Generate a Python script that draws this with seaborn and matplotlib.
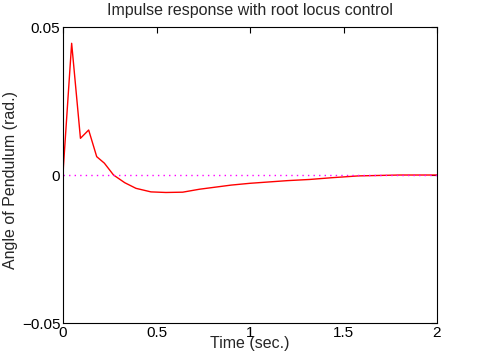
import numpy as np
import pandas as pd
import matplotlib
matplotlib.use('Agg')
import matplotlib.pyplot as plt
import seaborn as sns

# Valores
tiempo = [0, 0.002, 0.046, 0.093, 0.137, 0.18, 0.221, 0.27, 0.33, 0.39, 0.47,
          0.55, 0.64, 0.73, 0.9, 1.0, 1.2, 1.32, 1.44, 1.58, 1.8, 2.0]
angulo = [0, 0.0028, 0.0445, 0.0124, 0.0152, 0.0062, 0.0040, 0.0, -0.0026, -0.0045, -0.0057,
          -0.0059, -0.0058, -0.0048, -0.0034, -0.0028, -0.0019, -0.0015, -0.0009, -0.0003, 0.0, 0.0]
ticks_x = [0, 0.5, 1, 1.5, 2]
ticks_y = [-0.05, 0, 0.05]

df = pd.DataFrame({'t': tiempo, 'y': angulo})

sns.set_style('white')
plt.rcParams['font.family'] = ['Liberation Sans', 'DejaVu Sans']
tam = 11.5

fig = plt.figure(figsize=(4.85, 3.64), dpi=100)
ax = fig.add_axes([0.130, 0.1126, 0.771, 0.8132])

sns.lineplot(data=df, x='t', y='y', color='red', linewidth=1.0, ax=ax)
ax.axhline(0, color='magenta', linestyle=(0, (1, 3)), linewidth=1.0)

ax.set_xlim(0, 2)
ax.set_ylim(-0.05, 0.05)
ax.set_xticks(ticks_x)
ax.set_xticklabels(['0', '0.5', '1', '1.5', '2'])
ax.set_yticks(ticks_y)
ax.set_yticklabels(['\u22120.05', '0', '0.05'])
ax.tick_params(direction='in', length=4, width=0.8, top=True, right=True,
               labelsize=11, pad=2, colors='black')
for s in ax.spines.values():
    s.set_color('black')
    s.set_linewidth(0.8)

ax.set_title('Impulse response with root locus control', fontsize=tam, pad=9)
ax.set_xlabel('Time (sec.)', fontsize=tam, labelpad=-3)
ax.set_ylabel('Angle of Pendulum (rad.)', fontsize=tam)
ax.yaxis.set_label_coords(-0.12, 0.483)

fig.savefig('out.png', dpi=100)
